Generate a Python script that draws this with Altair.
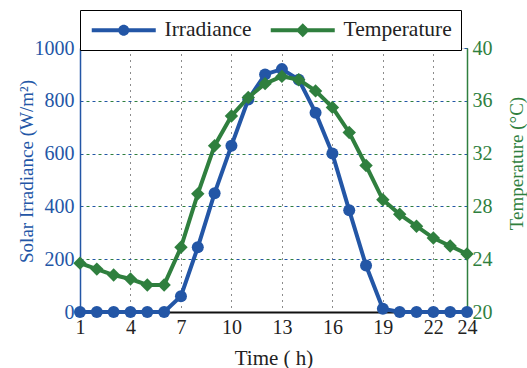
import altair as alt
import pandas as pd

hours = list(range(1, 25))
irradiance = [0, 0, 0, 0, 0, 0, 60, 245, 450, 630, 805, 900, 920, 880, 755, 600, 385, 176, 12, 0, 0, 0, 0, 0]
temperature = [23.7, 23.25, 22.8, 22.5, 22.05, 22.05, 24.9, 28.95, 32.6, 34.85, 36.25, 37.3, 37.85, 37.6,
               36.75, 35.5, 33.6, 31.1, 28.5, 27.4, 26.5, 25.6, 25.0, 24.4]
series_names = ["Irradiance", "Temperature"]
x_ticks = [1, 4, 7, 10, 13, 16, 19, 22, 24]
left_ticks = [0, 200, 400, 600, 800, 1000]
right_ticks = [20, 24, 28, 32, 36, 40]

BLUE = "#2356a6"
GREEN = "#2f7f3e"
FONT = "Liberation Serif"
LABEL_SIZE = 20
TITLE_SIZE = 21

df = pd.DataFrame({"hour": hours, "irr": irradiance, "temp": temperature})
leg_df = pd.DataFrame({"series": series_names})

x_enc = alt.X("hour:Q", scale=alt.Scale(domain=[1, 24], nice=False),
              axis=alt.Axis(values=x_ticks, title="Time ( h)", grid=True, gridColor="black",
                            gridDash=[1, 5], gridWidth=1, gridOpacity=0.9, ticks=False,
                            labelPadding=5, labelFont=FONT, labelFontSize=LABEL_SIZE, labelColor="#222",
                            titleFont=FONT, titleFontSize=TITLE_SIZE, titleFontWeight="normal",
                            titleColor="#222", titleY=52, titleBaseline="alphabetic",
                            domainColor="#111", domainWidth=2, labelFlush=False))

base = alt.Chart(df)

irr_line = base.mark_line(strokeWidth=4, color=BLUE).encode(
    x=x_enc,
    y=alt.Y("irr:Q", scale=alt.Scale(domain=[0, 1000], nice=False),
            axis=alt.Axis(values=left_ticks, format="d", title="Solar Irradiance (W/m²)", grid=True,
                          gridColor=BLUE, gridDash=[3, 9], gridWidth=1, ticks=False,
                          labelPadding=6, labelFont=FONT, labelFontSize=LABEL_SIZE, labelColor=BLUE,
                          titleFont=FONT, titleFontSize=19, titleFontWeight="normal",
                          titleColor=BLUE, titleAngle=270, titleX=-54, titleY=123,
                          titleAlign="center", titleBaseline="middle",
                          domainColor=BLUE, domainWidth=1.5, labelFlush=False)),
)
irr_pts = base.mark_point(filled=True, size=144, shape="circle", color=BLUE, opacity=1).encode(
    x="hour:Q", y="irr:Q")

temp_line = base.mark_line(strokeWidth=4, color=GREEN).encode(
    x="hour:Q",
    y=alt.Y("temp:Q", scale=alt.Scale(domain=[20, 40], nice=False),
            axis=alt.Axis(values=right_ticks, orient="right", title="Temperature (°C)", grid=True,
                          gridColor=GREEN, gridDash=[3, 9], gridDashOffset=6, gridWidth=1,
                          ticks=False, labelPadding=5, labelFont=FONT, labelFontSize=LABEL_SIZE,
                          labelColor=GREEN, titleFont=FONT, titleFontSize=19,
                          titleFontWeight="normal", titleColor=GREEN,
                          titleAngle=270, titleX=49, titleY=115, titleAlign="center",
                          titleBaseline="middle", domainColor=GREEN, domainWidth=1.5,
                          labelFlush=False)),
)
temp_pts = base.mark_point(filled=True, size=180, shape="diamond", color=GREEN, opacity=1).encode(
    x="hour:Q", y="temp:Q")

# legend symbols: a 64px bar with a marker in its middle (unit = 5px at symbolSize 100)
path_circle = "M-1.6,-0.4H11.2V0.4H-1.6Z M5.9,0A1.1,1.1,0,1,1,3.7,0A1.1,1.1,0,1,1,5.9,0Z"
path_diamond = "M-1.6,-0.4H11.2V0.4H-1.6Z M4.8,-1.4L6.2,0L4.8,1.4L3.4,0Z"

legend = alt.Legend(title=None, orient="none", legendX=0, legendY=-38, direction="horizontal",
                    strokeColor="black", fillColor="white", padding=9,
                    labelFont=FONT, labelFontSize=21.5, labelColor="#222", symbolSize=100,
                    labelOffset=54, columnPadding=16, symbolStrokeWidth=0, symbolOpacity=1)

leg_layer = alt.Chart(leg_df).mark_point(filled=True, opacity=1).encode(
    shape=alt.Shape("series:N", scale=alt.Scale(domain=series_names, range=[path_circle, path_diamond]),
                    legend=legend),
    color=alt.Color("series:N", scale=alt.Scale(domain=series_names, range=[BLUE, GREEN]),
                    legend=legend),
).transform_filter("false")

irr_layer = alt.layer(irr_line, irr_pts)
temp_layer = alt.layer(temp_line, temp_pts)

chart = alt.layer(irr_layer, temp_layer, leg_layer).resolve_scale(y="independent").properties(
    width=387, height=264, autosize=alt.AutoSizeParams(type="none"),
    padding={"left": 80, "top": 48, "right": 60, "bottom": 56},
).configure_view(stroke="black", strokeWidth=2).configure_legend(strokeWidth=2).configure(
    background="white")

chart.save("out.html", embed_options={"renderer": "svg", "actions": False})
